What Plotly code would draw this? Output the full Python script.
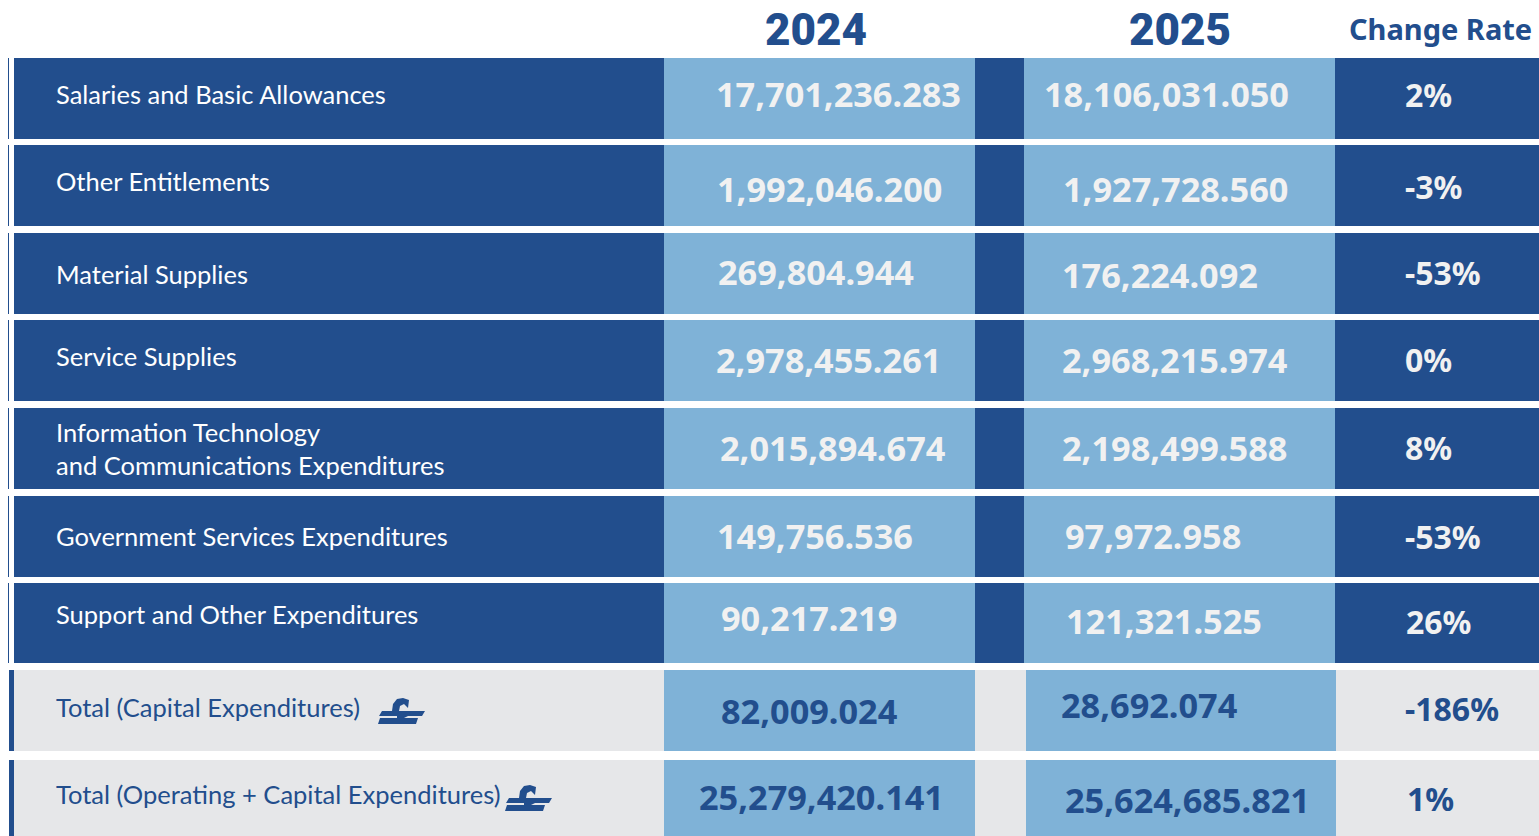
import plotly.graph_objects as go

# ---- data ----
labels = ["Salaries and Basic Allowances", "Other Entitlements", "Material Supplies", "Service Supplies",
          "Information Technology<br>and Communications Expenditures", "Government Services Expenditures",
          "Support and Other Expenditures", "Total (Capital Expenditures)",
          "Total (Operating + Capital Expenditures)"]
values_2024 = ["17,701,236.283", "1,992,046.200", "269,804.944", "2,978,455.261", "2,015,894.674",
               "149,756.536", "90,217.219", "82,009.024", "25,279,420.141"]
values_2025 = ["18,106,031.050", "1,927,728.560", "176,224.092", "2,968,215.974", "2,198,499.588",
               "97,972.958", "121,321.525", "28,692.074", "25,624,685.821"]
change_rate = ["2%", "-3%", "-53%", "0%", "8%", "-53%", "26%", "-186%", "1%"]
headers = ["2024", "2025", "Change Rate"]

# ---- layout (pixel positions) ----
W, H = 1539, 836
row_top = [58, 145, 233, 320, 408, 496, 583, 670, 760]
row_bot = [139, 226, 314, 401, 489, 577, 663, 751, 836]
label_y = [94, 181, 274, 356, 448, 536, 614, 707, 794]
y24 = [93, 188, 271, 359, 447, 535, 617, 710, 796]
x24 = [714, 715, 716, 714, 718, 715, 719, 719, 697]
y25 = [93, 188, 274, 359, 447, 535, 620, 704, 799]
x25 = [1042, 1061, 1060, 1060, 1060, 1063, 1064, 1059, 1063]
yc = [94, 186, 272, 359, 447, 536, 621, 708, 798]
xc = [1403, 1403, 1403, 1403, 1403, 1403, 1404, 1403, 1405]
icon_x = {7: 378, 8: 505}
icon_y = {7: 698, 8: 785}

DARK, LIGHT, GRAY, WHITE = "#224E8D", "#7FB2D7", "#E6E7E9", "#F1F1F1"
LABEL_FONT = "Lato"
NUM_FONT = "Noto Sans"

shapes, ann = [], []
def rect(x0, x1, y0, y1, c):
    shapes.append(dict(type="rect", xref="x", yref="y", x0=x0, x1=x1, y0=y0, y1=y1,
                       fillcolor=c, line_width=0, layer="below"))
def text(x, y, s, size, color, font=NUM_FONT, weight=600, anchor="left"):
    ann.append(dict(x=x, y=y, xref="x", yref="y", text=s, showarrow=False, xanchor=anchor, yanchor="middle",
                    align="left", font=dict(family=font, size=size, color=color, weight=weight)))

for i in range(9):
    t, b = row_top[i], row_bot[i]
    total = i >= 7
    if total:
        rect(9, 14, t, b, DARK)
        rect(14, 664, t, b, GRAY)
        rect(664, 975, t, b, LIGHT)
        rect(975, 1026, t, b, GRAY)
        rect(1026, 1336, t, b, LIGHT)
        rect(1336, W, t, b, GRAY)
    else:
        rect(8, 9, t, b, DARK)
        rect(14, 664, t, b, DARK)
        rect(664, 975, t, b, LIGHT)
        rect(975, 1024, t, b, DARK)
        rect(1024, 1335, t, b, LIGHT)
        rect(1335, W, t, b, DARK)
    c_lab = DARK if total else "#FFFFFF"
    c_num = DARK if total else WHITE
    text(54, label_y[i], labels[i], 25.5, c_lab, font=LABEL_FONT, weight=400)
    text(x24[i], y24[i], values_2024[i], 34.3, c_num, weight=700)
    text(x25[i], y25[i], values_2025[i], 34.3, c_num, weight=700)
    text(xc[i], yc[i], change_rate[i], 32, c_num, weight=700)

text(816, 30, headers[0], 44, DARK, font="Roboto", weight=900, anchor="center")
text(1180, 30, headers[1], 44, DARK, font="Roboto", weight=900, anchor="center")
text(1347, 28, headers[2], 29, DARK, weight=700)

# small logo next to the total labels
for i in icon_x:
    ox, oy = icon_x[i], icon_y[i]
    P = lambda pts: "M" + " L".join(f"{ox+a},{oy+b}" for a, b in pts) + " Z"
    for p in ([(4, 13), (47, 13), (44, 18), (1, 18)], [(2, 20), (40, 20), (38, 26), (0, 26)],
              [(14, 13), (15, 6), (19, 1), (25, 0), (31, 2), (30, 10), (26, 6), (22, 8), (21, 13)],
              [(19, 18), (30, 18), (26, 20), (19, 20)]):
        shapes.append(dict(type="path", xref="x", yref="y", path=P(p), fillcolor=DARK, line_width=0, layer="above"))

fig = go.Figure()
fig.update_layout(width=W, height=H, margin=dict(l=0, r=0, t=0, b=0), paper_bgcolor="white", plot_bgcolor="white",
                  xaxis=dict(range=[0, W], visible=False, fixedrange=True),
                  yaxis=dict(range=[H, 0], visible=False, fixedrange=True),
                  shapes=shapes, annotations=ann, showlegend=False)
fig.write_html("out.html", config={"displayModeBar": False},
               post_script="document.body.style.margin='0';document.body.style.overflow='hidden';")
